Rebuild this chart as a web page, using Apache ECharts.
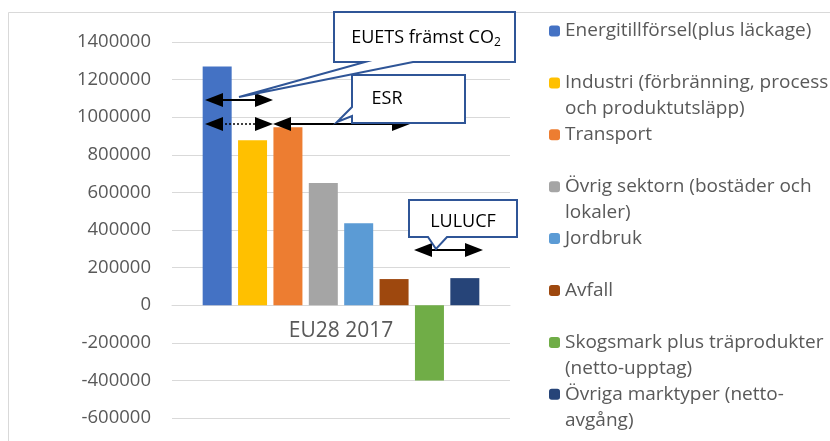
<!DOCTYPE html>
<html>
<head>
<meta charset="utf-8">
<script src="https://cdn.jsdelivr.net/npm/echarts@6/dist/echarts.min.js"></script>
<style>
  html, body { margin: 0; padding: 0; background: #fff; }
  #chartArea { width: 830px; height: 441px; }
</style>
</head>
<body>
<div id="chartArea"></div>
<script>
// data
var categories = ['EU28 2017'];
var sectorNames = [
    'Energitillförsel(plus läckage)',
    'Industri (förbränning, process\noch produktutsläpp)',
    'Transport',
    'Övrig sektorn (bostäder och\nlokaler)',
    'Jordbruk',
    'Avfall',
    'Skogsmark plus träprodukter\n(netto-upptag)',
    'Övriga marktyper (netto-\navgång)'
];
var sectorValues = [1270000, 878000, 946000, 650000, 436000, 139000, -400000, 144000];
var sectorColors = ['#4472C4', '#FFC000', '#ED7D31', '#A5A5A5', '#5B9BD5', '#9E480E', '#70AD47', '#264478'];
var yTicks = [-600000, 1400000, 200000]; // min, max, step

var textGray = '#595959';
var fontFam = '"Open Sans", "Noto Sans", sans-serif';

var series = [];
var legends = [];
var lineH = 26;
for (var i = 0; i < sectorNames.length; i++) {
    series.push({
        name: sectorNames[i],
        type: 'bar',
        barWidth: 29,
        barGap: '22%',
        itemStyle: {color: sectorColors[i]},
        data: [sectorValues[i]]
    });
    // one legend per entry so they keep Excel's fixed spacing
    var twoLines = sectorNames[i].indexOf('\n') > -1;
    var yc = 31 + i * 51.9;
    legends.push({
        data: [sectorNames[i]],
        left: 549,
        top: twoLines ? yc - 1.5 * lineH : yc - 0.5 * lineH,
        padding: 0,
        orient: 'vertical',
        itemWidth: 11,
        itemHeight: 11,
        itemGap: 0,
        selectedMode: false,
        // empty first line keeps the icon level with the first text line
        formatter: twoLines ? function (name) { return ' \n' + name; } : '{name}',
        textStyle: {
            color: textGray,
            fontSize: 19,
            fontFamily: fontFam,
            lineHeight: lineH
        }
    });
}

// small helpers for the annotation drawing
function arrowHead(x, y, dir) {
    var l = 18, h = 7;
    return {
        type: 'polygon',
        z: 100,
        shape: {points: [[x, y], [x - dir * l, y - h], [x - dir * l, y + h]]},
        style: {fill: '#000'}
    };
}
function doubleArrow(x1, x2, y, dashed) {
    return [
        {
            type: 'line',
            z: 100,
            shape: {x1: x1 + 8, y1: y, x2: x2 - 8, y2: y},
            style: {stroke: '#000', lineWidth: dashed ? 1.5 : 2, lineDash: dashed ? [2, 2] : null}
        },
        arrowHead(x1, y, -1),
        arrowHead(x2, y, 1)
    ];
}
function callout(points) {
    return {
        type: 'polygon',
        z: 100,
        shape: {points: points},
        style: {fill: '#fff', stroke: '#2F5597', lineWidth: 2}
    };
}
function label(x, y, text, rich) {
    return {
        type: 'text',
        z: 101,
        x: x, y: y,
        style: {
            text: text,
            fill: '#000',
            fontSize: 18,
            fontFamily: fontFam,
            align: 'center',
            verticalAlign: 'middle',
            rich: rich
        }
    };
}

var graphics = [
    {
        type: 'rect',
        shape: {x: 8.5, y: 12.5, width: 900, height: 500},
        style: {fill: 'none', stroke: '#D9D9D9', lineWidth: 1},
        silent: true
    }
];
graphics = graphics.concat(doubleArrow(205, 273, 100, false));
graphics = graphics.concat(doubleArrow(205, 273, 124, true));
graphics = graphics.concat(doubleArrow(273, 410, 124, false));
graphics = graphics.concat(doubleArrow(414, 483, 250, false));
graphics.push(callout([[334, 12], [515, 12], [515, 62], [413, 62], [239, 97], [365, 62], [334, 62]]));
graphics.push(callout([[352, 75], [465, 75], [465, 123], [352, 123], [352, 116], [337, 122], [352, 107]]));
graphics.push(callout([[409, 200], [517, 200], [517, 237], [447, 237], [436, 249], [428, 237], [409, 237]]));
graphics.push(label(426, 38, 'EUETS främst CO{sub|2}', {sub: {fontSize: 12, fontFamily: fontFam, fill: '#000', padding: [10, 0, 0, 0]}}));
graphics.push(label(387, 99, 'ESR'));
graphics.push(label(463, 222, 'LULUCF'));

var option = {
    animation: false,
    backgroundColor: '#fff',
    legend: legends,
    grid: {left: 172, right: 320, top: 42, bottom: 23, containLabel: false, outerBoundsMode: 'none'},
    xAxis: {
        type: 'category',
        data: categories,
        // sit the category axis on the zero line, as in the original
        offset: -113,
        axisLine: {onZero: false, lineStyle: {color: '#D9D9D9'}},
        axisTick: {show: false},
        axisLabel: {color: textGray, fontSize: 21, fontFamily: fontFam, margin: 16}
    },
    yAxis: {
        type: 'value',
        min: yTicks[0],
        max: yTicks[1],
        interval: yTicks[2],
        axisLine: {show: false},
        axisTick: {show: false},
        splitLine: {lineStyle: {color: '#D9D9D9'}},
        axisLabel: {
            color: textGray, fontSize: 18.5, fontFamily: fontFam, margin: 21,
            formatter: function (v) { return String(v); }
        }
    },
    series: series,
    graphic: graphics
};

var myChart = echarts.init(document.getElementById('chartArea'));
myChart.setOption(option);
</script>
</body>
</html>
